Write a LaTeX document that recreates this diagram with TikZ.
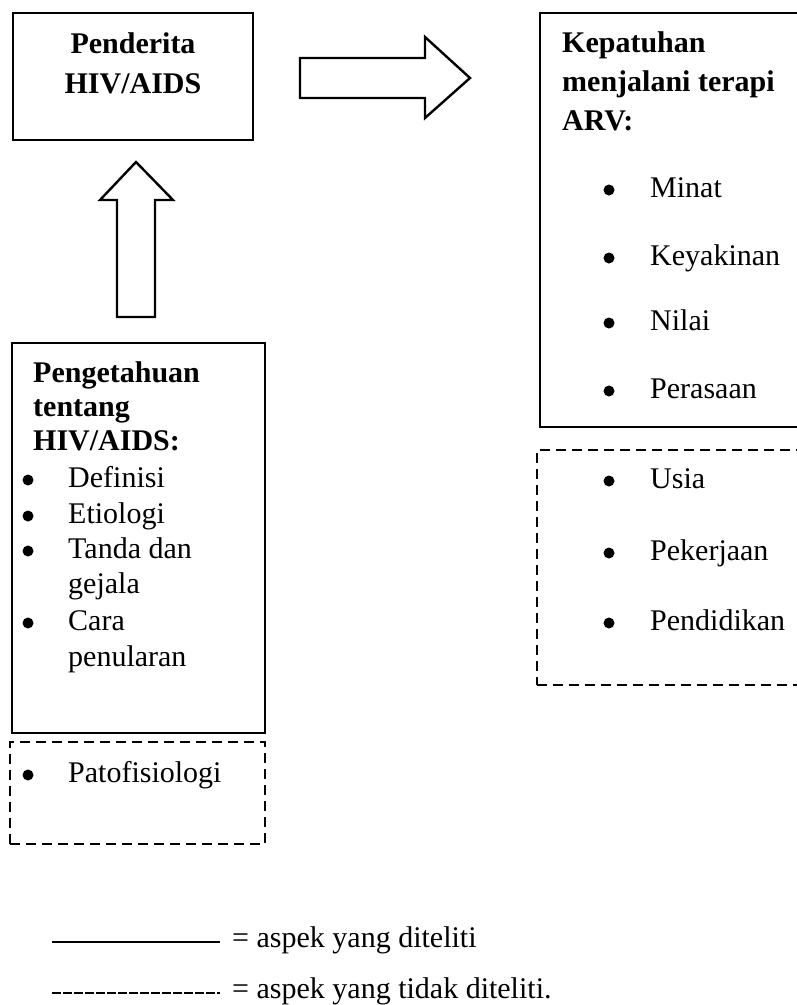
\documentclass[tikz,border=0pt]{standalone}
\usepackage{fontspec}
\setmainfont{Liberation Serif}
\begin{document}
\begin{tikzpicture}[x=1pt,y=-1pt,
  solidbox/.style={draw, line width=2.4pt, inner sep=0pt},
  dashbox/.style={draw, line width=2.4pt, dash pattern=on 10pt off 6pt, inner sep=0pt},
  txt/.style={anchor=base west, inner sep=0pt, font=\fontsize{30}{36}\selectfont},
  head/.style={anchor=base west, inner sep=0pt, font=\fontsize{30}{36}\selectfont\bfseries},
  dot/.style={circle, fill=black, inner sep=0pt, minimum size=11pt},
  blockarrow/.style={draw, line width=2.4pt, fill=white, line join=miter}]
\useasboundingbox (0,0) rectangle (797,1005);
\clip (0,0) rectangle (797,1005);
\fill[white] (0,0) rectangle (797,1005);

% boxes
\node[solidbox, minimum width=240pt, minimum height=127pt] (pend) at (133,76.5) {};
\node[solidbox, minimum width=270pt, minimum height=414pt] (kep) at (675,220) {};
\node[dashbox, minimum width=273pt, minimum height=235pt] (kepx) at (673.5,567.5) {};
\node[solidbox, minimum width=253pt, minimum height=390pt] (peng) at (138.5,538) {};
\node[dashbox, minimum width=255pt, minimum height=102pt] (pengx) at (137.5,793) {};

% block arrows
\draw[blockarrow] (117,317) -- (117,200) -- (100,200) -- (136,162) -- (173,200) -- (155,200) -- (155,317) -- cycle;
\draw[blockarrow] (300,58) -- (425,58) -- (425,37) -- (470,78) -- (425,118) -- (425,98) -- (300,98) -- cycle;

% top box text
\node[head, anchor=base] (t1) at (133,53) {Penderita};
\node[head, anchor=base] (t2) at (133,93) {HIV/AIDS};

% right box
\node[head] (k1) at (562,52) {Kepatuhan};
\node[head] (k2) at (562,91) {menjalani terapi};
\node[head] (k3) at (562,130) {ARV:};
\node[dot] (kb1) at (609,190) {};
\node[txt] (ki1) at (650,197) {Minat};
\node[dot] (kb2) at (609,258) {};
\node[txt] (ki2) at (650,265) {Keyakinan};
\node[dot] (kb3) at (609,323) {};
\node[txt] (ki3) at (650,330) {Nilai};
\node[dot] (kb4) at (609,391) {};
\node[txt] (ki4) at (650,398) {Perasaan};

% right dashed box
\node[dot] (xb1) at (609,481) {};
\node[txt] (xi1) at (650,488) {Usia};
\node[dot] (xb2) at (609,553) {};
\node[txt] (xi2) at (650,560) {Pekerjaan};
\node[dot] (xb3) at (609,623) {};
\node[txt] (xi3) at (650,630) {Pendidikan};

% left box
\node[head] (p1) at (33,382) {Pengetahuan};
\node[head] (p2) at (33,416) {tentang};
\node[head] (p3) at (33,450) {HIV/AIDS:};
\node[dot] (pb1) at (28,480) {};
\node[txt] (pi1) at (68,487) {Definisi};
\node[dot] (pb2) at (28,516) {};
\node[txt] (pi2) at (68,523) {Etiologi};
\node[dot] (pb3) at (28,551) {};
\node[txt] (pi3) at (68,558) {Tanda dan};
\node[txt] (pi4) at (68,593) {gejala};
\node[dot] (pb4) at (28,623) {};
\node[txt] (pi5) at (68,630) {Cara};
\node[txt] (pi6) at (68,666) {penularan};

% left dashed box
\node[dot] (qb1) at (28,775) {};
\node[txt] (qi1) at (68,782) {Patofisiologi};

% legend
\coordinate (l1a) at (52,942);
\coordinate (l1b) at (220,942);
\draw[line width=2.2pt] (l1a) -- (l1b);
\node[txt] (lt1) at (232,947) {= aspek yang diteliti};
\coordinate (l2a) at (52,993);
\coordinate (l2b) at (220,993);
\draw[line width=2.2pt, dash pattern=on 9pt off 2pt] (l2a) -- (l2b);
\node[txt] (lt2) at (232,998) {= aspek yang tidak diteliti.};
\end{tikzpicture}
\end{document}
